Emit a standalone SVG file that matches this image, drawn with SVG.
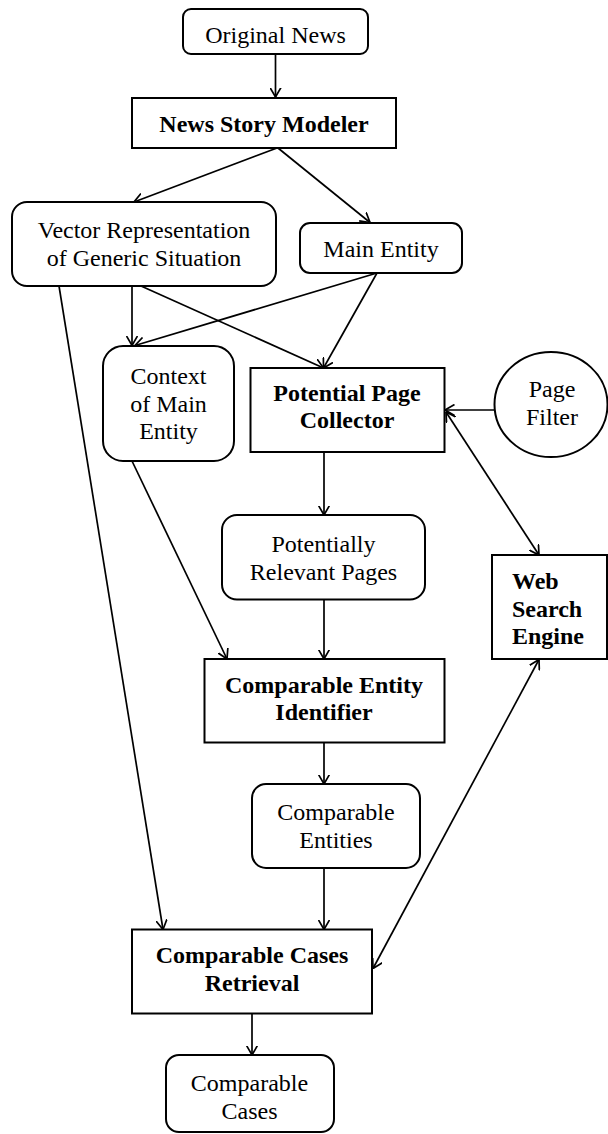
<svg xmlns="http://www.w3.org/2000/svg" width="608" height="1134" viewBox="0 0 608 1134">
<style>
.box{fill:#fff;stroke:#000;stroke-width:2}
.t{font-family:"Liberation Serif","Times New Roman",serif;font-size:24px;fill:#000;text-anchor:middle}
.b{font-weight:bold}
.e{fill:none;stroke:#000;stroke-width:1.7}
</style>
<defs>
<marker id="ah" markerUnits="userSpaceOnUse" viewBox="0 0 10 12" refX="9.5" refY="6" markerWidth="10" markerHeight="12" orient="auto-start-reverse">
<path d="M0,0.5 L9.5,6 L0,11.5" fill="none" stroke="#000" stroke-width="1.7"/>
</marker>
</defs>
<rect width="608" height="1134" fill="#fff"/>
<g id="connectors" class="e" marker-end="url(#ah)">
<line x1="275.5" y1="54" x2="275.5" y2="97"/>
<line x1="277" y1="148" x2="134" y2="202"/>
<line x1="278" y1="148" x2="370" y2="222.5"/>
<line x1="132" y1="286" x2="132" y2="345.5"/>
<line x1="141" y1="286" x2="323.5" y2="368"/>
<line x1="377" y1="273" x2="135" y2="345.5"/>
<line x1="377" y1="273" x2="323.5" y2="368"/>
<line x1="59" y1="286" x2="163" y2="929.5"/>
<line x1="494" y1="410" x2="445" y2="410"/>
<line x1="446" y1="412" x2="539" y2="555" marker-start="url(#ah)"/>
<line x1="324" y1="452" x2="324" y2="515"/>
<line x1="132" y1="461" x2="227" y2="659"/>
<line x1="324" y1="599.5" x2="324" y2="659"/>
<line x1="539" y1="659.5" x2="373" y2="968.5" marker-start="url(#ah)"/>
<line x1="324" y1="742.5" x2="324" y2="784"/>
<line x1="324" y1="868" x2="324" y2="929.5"/>
<line x1="252" y1="1013.5" x2="252" y2="1055"/>
</g>
<g id="original-news"><rect class="box" x="183" y="9" width="185" height="45" rx="8"/><text class="t" x="275.5" y="43">Original News</text></g>
<g id="news-story-modeler"><rect class="box" x="132" y="98" width="264" height="50"/><text class="t b" x="264" y="132">News Story Modeler</text></g>
<g id="vector-representation"><rect class="box" x="12" y="202" width="264" height="84" rx="15"/><text class="t" x="144" y="238">Vector Representation</text><text class="t" x="144" y="266">of Generic Situation</text></g>
<g id="main-entity"><rect class="box" x="300" y="223" width="162" height="50" rx="10"/><text class="t" x="381" y="257">Main Entity</text></g>
<g id="context"><rect class="box" x="103" y="346" width="131" height="115" rx="20"/><text class="t" x="168.5" y="384">Context</text><text class="t" x="168.5" y="411.5">of Main</text><text class="t" x="168.5" y="439">Entity</text></g>
<g id="potential-page-collector"><rect class="box" x="250.5" y="368" width="194" height="84"/><text class="t b" x="347" y="400.5">Potential Page</text><text class="t b" x="347" y="428">Collector</text></g>
<g id="page-filter"><ellipse class="box" cx="551" cy="404.5" rx="56.5" ry="52.5"/><text class="t" x="552" y="397">Page</text><text class="t" x="552" y="425">Filter</text></g>
<g id="potentially-relevant-pages"><rect class="box" x="222" y="515" width="203" height="84.5" rx="15"/><text class="t" x="323.5" y="552">Potentially</text><text class="t" x="323.5" y="580">Relevant Pages</text></g>
<g id="web-search-engine"><rect class="box" x="492" y="555" width="115" height="104"/><text class="t b" x="512" y="588.5" style="text-anchor:start">Web</text><text class="t b" x="512" y="616.5" style="text-anchor:start">Search</text><text class="t b" x="512" y="644" style="text-anchor:start">Engine</text></g>
<g id="comparable-entity-identifier"><rect class="box" x="204.5" y="659" width="240" height="83.5"/><text class="t b" x="324" y="693">Comparable Entity</text><text class="t b" x="324" y="720">Identifier</text></g>
<g id="comparable-entities"><rect class="box" x="252" y="784" width="168" height="84" rx="14"/><text class="t" x="336" y="820">Comparable</text><text class="t" x="336" y="848">Entities</text></g>
<g id="comparable-cases-retrieval"><rect class="box" x="132" y="929.5" width="240" height="84"/><text class="t b" x="252" y="963">Comparable Cases</text><text class="t b" x="252" y="990.5">Retrieval</text></g>
<g id="comparable-cases"><rect class="box" x="166" y="1055" width="168" height="77" rx="13"/><text class="t" x="249.5" y="1091">Comparable</text><text class="t" x="249.5" y="1118.5">Cases</text></g>
</svg>
